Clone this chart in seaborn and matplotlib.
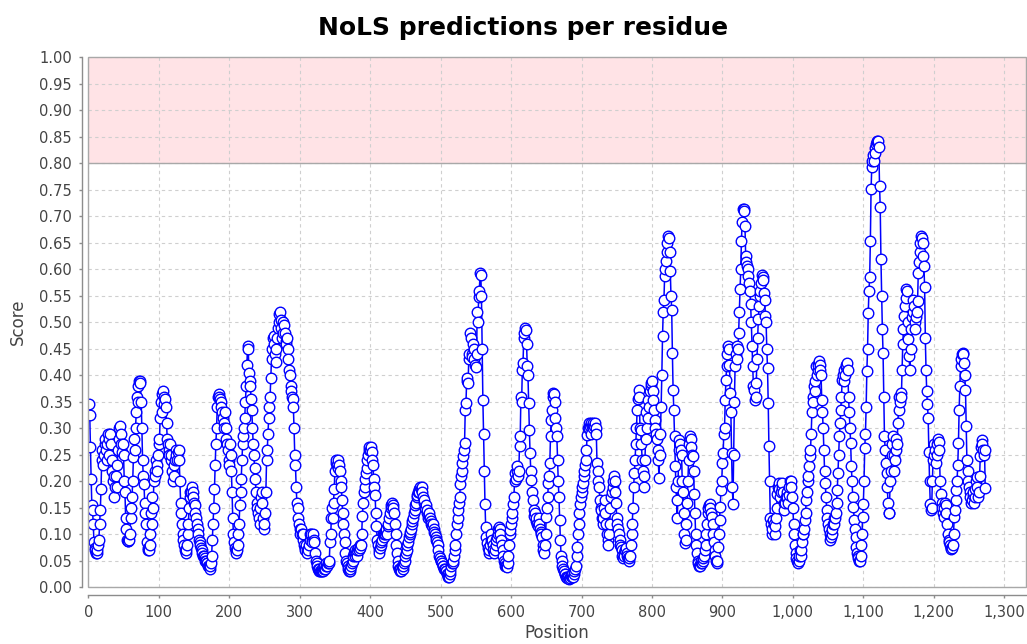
import matplotlib
matplotlib.use('Agg')
from matplotlib import pyplot as plt
from matplotlib.patches import Rectangle
from matplotlib.ticker import FuncFormatter
import seaborn as sns
import pandas as pd
import numpy as np

# NoLS score per residue (residues 1..1273, ten per row)
score = [
    .345, .325, .265, .205, .155, .145, .12, .085, .075, .07,
    .065, .065, .07, .08, .09, .12, .145, .185, .24, .26,
    .23, .25, .27, .28, .26, .24, .27, .29, .28, .25,
    .29, .27, .24, .22, .2, .21, .17, .19, .21, .19,
    .23, .26, .28, .3, .305, .29, .27, .255, .27, .25,
    .2, .18, .13, .11, .09, .088, .088, .09, .1, .13,
    .15, .17, .2, .245, .28, .26, .3, .33, .36, .35,
    .38, .39, .39, .385, .35, .3, .24, .21, .195, .16,
    .14, .12, .085, .075, .07, .07, .08, .1, .14, .12,
    .17, .15, .2, .22, .21, .24, .23, .22, .25, .27,
    .28, .32, .35, .33, .365, .37, .36, .345, .355, .34,
    .31, .28, .27, .26, .25, .27, .24, .25, .22, .2,
    .23, .21, .24, .26, .25, .24, .255, .26, .24, .2,
    .16, .14, .12, .1, .09, .08, .07, .065, .07, .08,
    .1, .12, .15, .17, .18, .18, .19, .18, .17, .16,
    .155, .14, .13, .12, .11, .1, .09, .085, .08, .075,
    .07, .065, .06, .06, .055, .05, .05, .045, .045, .04,
    .04, .035, .04, .045, .06, .09, .12, .15, .185, .23,
    .27, .3, .34, .36, .365, .36, .355, .35, .34, .33,
    .32, .31, .3, .33, .3, .28, .27, .26, .24, .23,
    .27, .25, .22, .18, .13, .1, .085, .075, .07, .065,
    .07, .08, .1, .12, .155, .18, .205, .24, .27, .285,
    .3, .32, .35, .38, .42, .455, .45, .405, .39, .38,
    .355, .335, .3, .27, .25, .225, .205, .18, .16, .15,
    .14, .13, .12, .15, .17, .18, .16, .13, .11, .12,
    .14, .18, .24, .26, .29, .32, .34, .36, .395, .43,
    .45, .47, .475, .46, .44, .425, .45, .47, .49, .5,
    .515, .52, .505, .49, .47, .48, .5, .495, .48, .465,
    .46, .47, .45, .43, .41, .4, .38, .37, .36, .355,
    .34, .3, .25, .23, .19, .16, .15, .13, .12, .11,
    .1, .11, .1, .09, .1, .08, .075, .07, .08, .07,
    .065, .07, .08, .09, .1, .1, .09, .085, .1, .09,
    .085, .065, .05, .045, .04, .035, .03, .035, .03, .03,
    .035, .03, .03, .035, .04, .035, .04, .045, .04, .045,
    .045, .05, .085, .1, .13, .15, .13, .16, .185, .22,
    .235, .24, .23, .225, .24, .23, .22, .2, .19, .165,
    .14, .12, .1, .085, .065, .05, .045, .04, .035, .03,
    .03, .035, .04, .045, .05, .06, .065, .06, .07, .065,
    .06, .07, .075, .07, .08, .075, .08, .1, .135, .16,
    .18, .19, .205, .215, .225, .24, .25, .26, .265, .26,
    .265, .255, .24, .23, .205, .19, .175, .14, .115, .09,
    .08, .07, .065, .075, .08, .085, .09, .1, .095, .1,
    .1, .105, .11, .1, .115, .12, .13, .14, .15, .155,
    .16, .155, .15, .14, .12, .1, .08, .065, .05, .04,
    .035, .03, .035, .03, .04, .035, .04, .045, .05, .06,
    .065, .07, .08, .085, .095, .1, .105, .11, .12, .125,
    .13, .14, .145, .155, .16, .17, .175, .18, .185, .18,
    .19, .185, .19, .18, .17, .16, .165, .15, .155, .14,
    .145, .13, .135, .14, .13, .125, .12, .115, .12, .11,
    .105, .1, .095, .09, .085, .08, .07, .06, .055, .05,
    .05, .045, .04, .04, .035, .035, .03, .03, .025, .025,
    .02, .02, .025, .03, .04, .045, .045, .05, .06, .07,
    .08, .1, .12, .13, .146, .16, .17, .195, .21, .22,
    .235, .247, .26, .272, .335, .348, .39, .395, .385, .43,
    .44, .48, .47, .44, .435, .46, .45, .43, .42, .415,
    .44, .52, .5, .547, .56, .594, .59, .55, .45, .354,
    .29, .22, .158, .114, .095, .083, .075, .064, .07, .08,
    .09, .1, .09, .08, .07, .065, .07, .08, .09, .095,
    .1, .11, .114, .11, .1, .09, .08, .07, .06, .05,
    .045, .04, .04, .038, .045, .06, .08, .1, .108, .12,
    .13, .14, .158, .17, .2, .215, .205, .22, .228, .21,
    .22, .266, .285, .36, .35, .41, .424, .47, .48, .49,
    .485, .46, .417, .4, .348, .297, .253, .22, .203, .18,
    .165, .146, .135, .14, .125, .13, .12, .115, .13, .12,
    .11, .105, .1, .095, .08, .07, .064, .08, .1, .133,
    .15, .17, .196, .21, .234, .285, .316, .335, .36, .367,
    .365, .35, .32, .3, .285, .24, .2, .17, .127, .09,
    .06, .05, .04, .035, .03, .025, .025, .02, .02, .018,
    .02, .015, .02, .018, .022, .02, .025, .02, .025, .03,
    .035, .04, .06, .076, .1, .12, .14, .158, .17, .18,
    .19, .196, .21, .22, .23, .24, .26, .288, .3, .31,
    .3, .305, .29, .31, .305, .3, .31, .305, .31, .3,
    .29, .234, .22, .2, .19, .165, .15, .146, .13, .12,
    .13, .15, .165, .14, .12, .1, .09, .08, .1, .12,
    .15, .17, .18, .19, .2, .21, .2, .18, .16, .13,
    .12, .11, .1, .09, .08, .076, .07, .06, .055, .065,
    .06, .07, .075, .065, .06, .055, .05, .055, .06, .08,
    .1, .12, .15, .19, .215, .24, .27, .3, .335, .355,
    .373, .36, .3, .297, .27, .24, .22, .19, .21, .24,
    .28, .33, .3, .32, .354, .34, .37, .38, .385, .39,
    .37, .354, .335, .316, .3, .29, .28, .26, .24, .206,
    .25, .29, .34, .4, .474, .52, .543, .588, .6, .616,
    .632, .65, .663, .66, .632, .597, .55, .524, .442, .373,
    .335, .285, .228, .19, .165, .13, .2, .26, .278, .27,
    .26, .25, .2, .18, .14, .1, .083, .09, .12, .16,
    .2, .24, .27, .285, .28, .265, .25, .247, .22, .177,
    .14, .1, .08, .065, .05, .045, .04, .04, .045, .05,
    .045, .05, .055, .06, .07, .08, .1, .12, .14, .15,
    .155, .158, .15, .14, .133, .12, .1, .085, .07, .06,
    .05, .045, .05, .076, .1, .127, .152, .184, .2, .234,
    .253, .29, .3, .354, .392, .417, .44, .455, .45, .42,
    .367, .33, .253, .19, .158, .25, .35, .417, .44, .455,
    .43, .45, .48, .52, .562, .6, .654, .69, .714, .714,
    .71, .682, .626, .613, .607, .6, .588, .575, .56, .534,
    .5, .455, .417, .38, .373, .354, .36, .386, .43, .47,
    .506, .53, .55, .56, .575, .59, .585, .58, .556, .543,
    .512, .5, .45, .414, .348, .266, .2, .13, .12, .1,
    .11, .127, .12, .1, .115, .13, .15, .177, .19, .196,
    .185, .17, .18, .19, .196, .18, .16, .146, .16, .17,
    .18, .17, .16, .175, .19, .2, .2, .19, .17, .15,
    .12, .1, .08, .065, .055, .05, .045, .05, .06, .07,
    .06, .07, .085, .1, .1, .11, .127, .14, .165, .18,
    .2, .21, .228, .247, .26, .29, .33, .36, .35, .38,
    .37, .39, .417, .4, .41, .42, .427, .42, .41, .4,
    .354, .33, .3, .26, .22, .196, .17, .146, .13, .12,
    .11, .1, .09, .095, .1, .11, .12, .13, .12, .13,
    .14, .16, .184, .215, .25, .285, .31, .335, .36, .392,
    .4, .41, .39, .4, .415, .42, .424, .41, .36, .33,
    .3, .272, .228, .2, .17, .152, .127, .11, .095, .076,
    .065, .06, .055, .05, .05, .06, .08, .1, .133, .158,
    .2, .263, .29, .34, .408, .449, .518, .56, .585, .654,
    .752, .793, .805, .815, .805, .828, .82, .837, .84, .843,
    .843, .83, .758, .717, .62, .55, .487, .443, .36, .285,
    .26, .234, .215, .19, .16, .14, .14, .2, .22, .25,
    .27, .285, .25, .22, .24, .26, .28, .27, .31, .335,
    .36, .35, .367, .36, .41, .46, .487, .512, .53, .545,
    .562, .56, .5, .468, .436, .41, .45, .487, .51, .52,
    .543, .53, .5, .487, .51, .52, .54, .594, .613, .632,
    .65, .663, .66, .65, .626, .607, .566, .47, .41, .37,
    .345, .32, .256, .2, .158, .146, .15, .2, .24, .25,
    .27, .26, .234, .25, .27, .28, .275, .26, .2, .177,
    .16, .15, .14, .133, .15, .16, .155, .14, .12, .1,
    .09, .085, .08, .075, .073, .075, .08, .1, .133, .146,
    .165, .184, .2, .23, .272, .335, .38, .417, .43, .44,
    .443, .44, .424, .4, .373, .304, .24, .22, .2, .19,
    .18, .17, .16, .165, .175, .18, .16, .17, .185, .2,
    .209, .19, .17, .18, .21, .247, .265, .278, .27, .26,
    .25, .26, .187,
]

x_ticks = list(range(0, 1301, 100))
y_ticks = [i / 20 for i in range(21)]
band = (0.8, 1.0)   # highlighted NoLS threshold region

df = pd.DataFrame({'Position': np.arange(1, len(score) + 1), 'Score': score})

sns.set_theme(style='white')
plt.rcParams['font.family'] = ['DejaVu Sans']

fig = plt.figure(figsize=(10.27, 6.44), dpi=100)
ax = fig.add_axes([0.0860, 0.0880, 0.9131, 0.8230])

ax.axhspan(*band, color='#ffe3e6', zorder=0.2, lw=0)
ax.axhline(band[0], color='#a8a8a8', lw=1.0, zorder=0.6)

sns.lineplot(data=df, x='Position', y='Score', ax=ax, estimator=None,
             color='#0000ff', linewidth=1.1, marker='o', markersize=7.6,
             markerfacecolor='white', markeredgecolor='#0000ff',
             markeredgewidth=1.0, zorder=3)

ax.set_xlim(0, 1331)
ax.set_ylim(0, 1.0)
ax.set_xticks(x_ticks)
ax.set_yticks(y_ticks)
ax.xaxis.set_major_formatter(FuncFormatter(lambda v, p: f'{v:,.0f}'))
ax.yaxis.set_major_formatter(FuncFormatter(lambda v, p: f'{v:.2f}'))

ax.set_axisbelow(True)
ax.grid(True, color='#cfcfcf', lw=0.8, ls=(0, (3, 3)))

for side in ['top', 'right']:
    ax.spines[side].set_visible(False)
ax.spines['left'].set_position(('outward', 4.7))
ax.spines['bottom'].set_position(('outward', 5.5))
for side in ['left', 'bottom']:
    ax.spines[side].set_color('#8c8c8c')
    ax.spines[side].set_linewidth(1.0)
ax.add_patch(Rectangle((0, 0), 1, 1, transform=ax.transAxes, fill=False,
                       ec='#a8a8a8', lw=1.0, clip_on=False, zorder=5))

ax.tick_params(axis='both', which='major', length=2, width=1, color='#8c8c8c',
               labelsize=10.5, labelcolor='#444444', pad=5,
               bottom=True, left=True)

ax.set_xlabel('')
ax.set_ylabel('')
fig.text(0.5423, 0.017, 'Position', ha='center', va='center',
         fontsize=12, color='#444444')
fig.text(0.0175, 0.5, 'Score', ha='center', va='center', rotation=90,
         fontsize=12, color='#444444')
fig.text(0.509, 0.9457, 'NoLS predictions per residue', ha='center',
         va='baseline', fontsize=18, fontweight='bold', color='black')

fig.savefig('out.png', dpi=100)
